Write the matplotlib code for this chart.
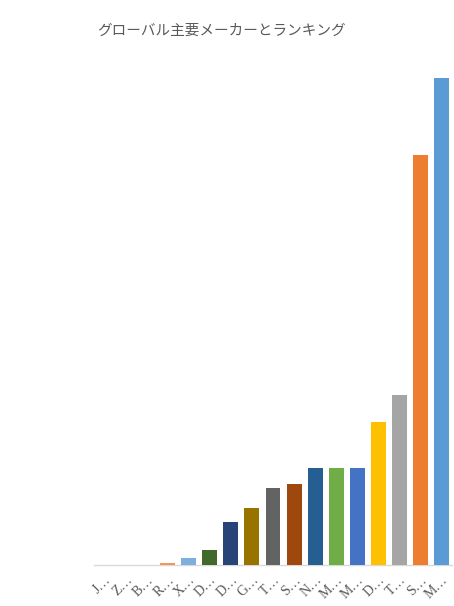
import matplotlib
matplotlib.use("Agg")
import matplotlib.pyplot as plt

# ── Data (arbitrary units) ───────────────────────────────────────────────────
labels = ["J…", "Z…", "B…", "R…", "X…", "D…", "D…", "G…", "T…",
          "S…", "N…", "M…", "M…", "D…", "T…", "S…", "M…"]
values = [0.3, 0.3, 0.3, 2, 7, 15, 43, 57, 77, 81, 97, 97, 97, 143, 170, 410, 487]
colors = ["#698ED0", "#FFCD33", "#B7B7B7", "#F1975A", "#7CAFDD", "#43682B",
          "#264478", "#997300", "#636363", "#9E480E", "#255E91", "#70AD47",
          "#4472C4", "#FFC000", "#A5A5A5", "#ED7D31", "#5B9BD5"]
title = "グローバル主要メーカーとランキング"

fig = plt.figure(figsize=(4.54, 6.06), dpi=100)
ax = fig.add_axes([94 / 454, 1 - 565 / 606, 358 / 454, 500 / 606])

x = range(len(labels))
ax.bar(x, values, width=0.71, color=colors, zorder=3)

ax.set_xlim(-0.5, len(labels) - 0.5)
ax.set_ylim(0, 500)
ax.set_yticks([])
for side in ("top", "right", "left"):
    ax.spines[side].set_visible(False)
ax.spines["bottom"].set_color("#D9D9D9")
ax.spines["bottom"].set_linewidth(1.0)

ax.set_xticks(list(x))
ax.set_xticklabels(labels, rotation=45, ha="right", rotation_mode="anchor",
                   fontsize=10, color="#595959", family="Liberation Serif")
ax.tick_params(axis="x", length=0, pad=6)

fig.text(0.487, 1 - 31 / 606, title, ha="center", va="center",
         fontsize=10.5, color="#595959", family=["Noto Sans CJK JP", "DejaVu Sans"])

fig.savefig("out.png", dpi=100)
